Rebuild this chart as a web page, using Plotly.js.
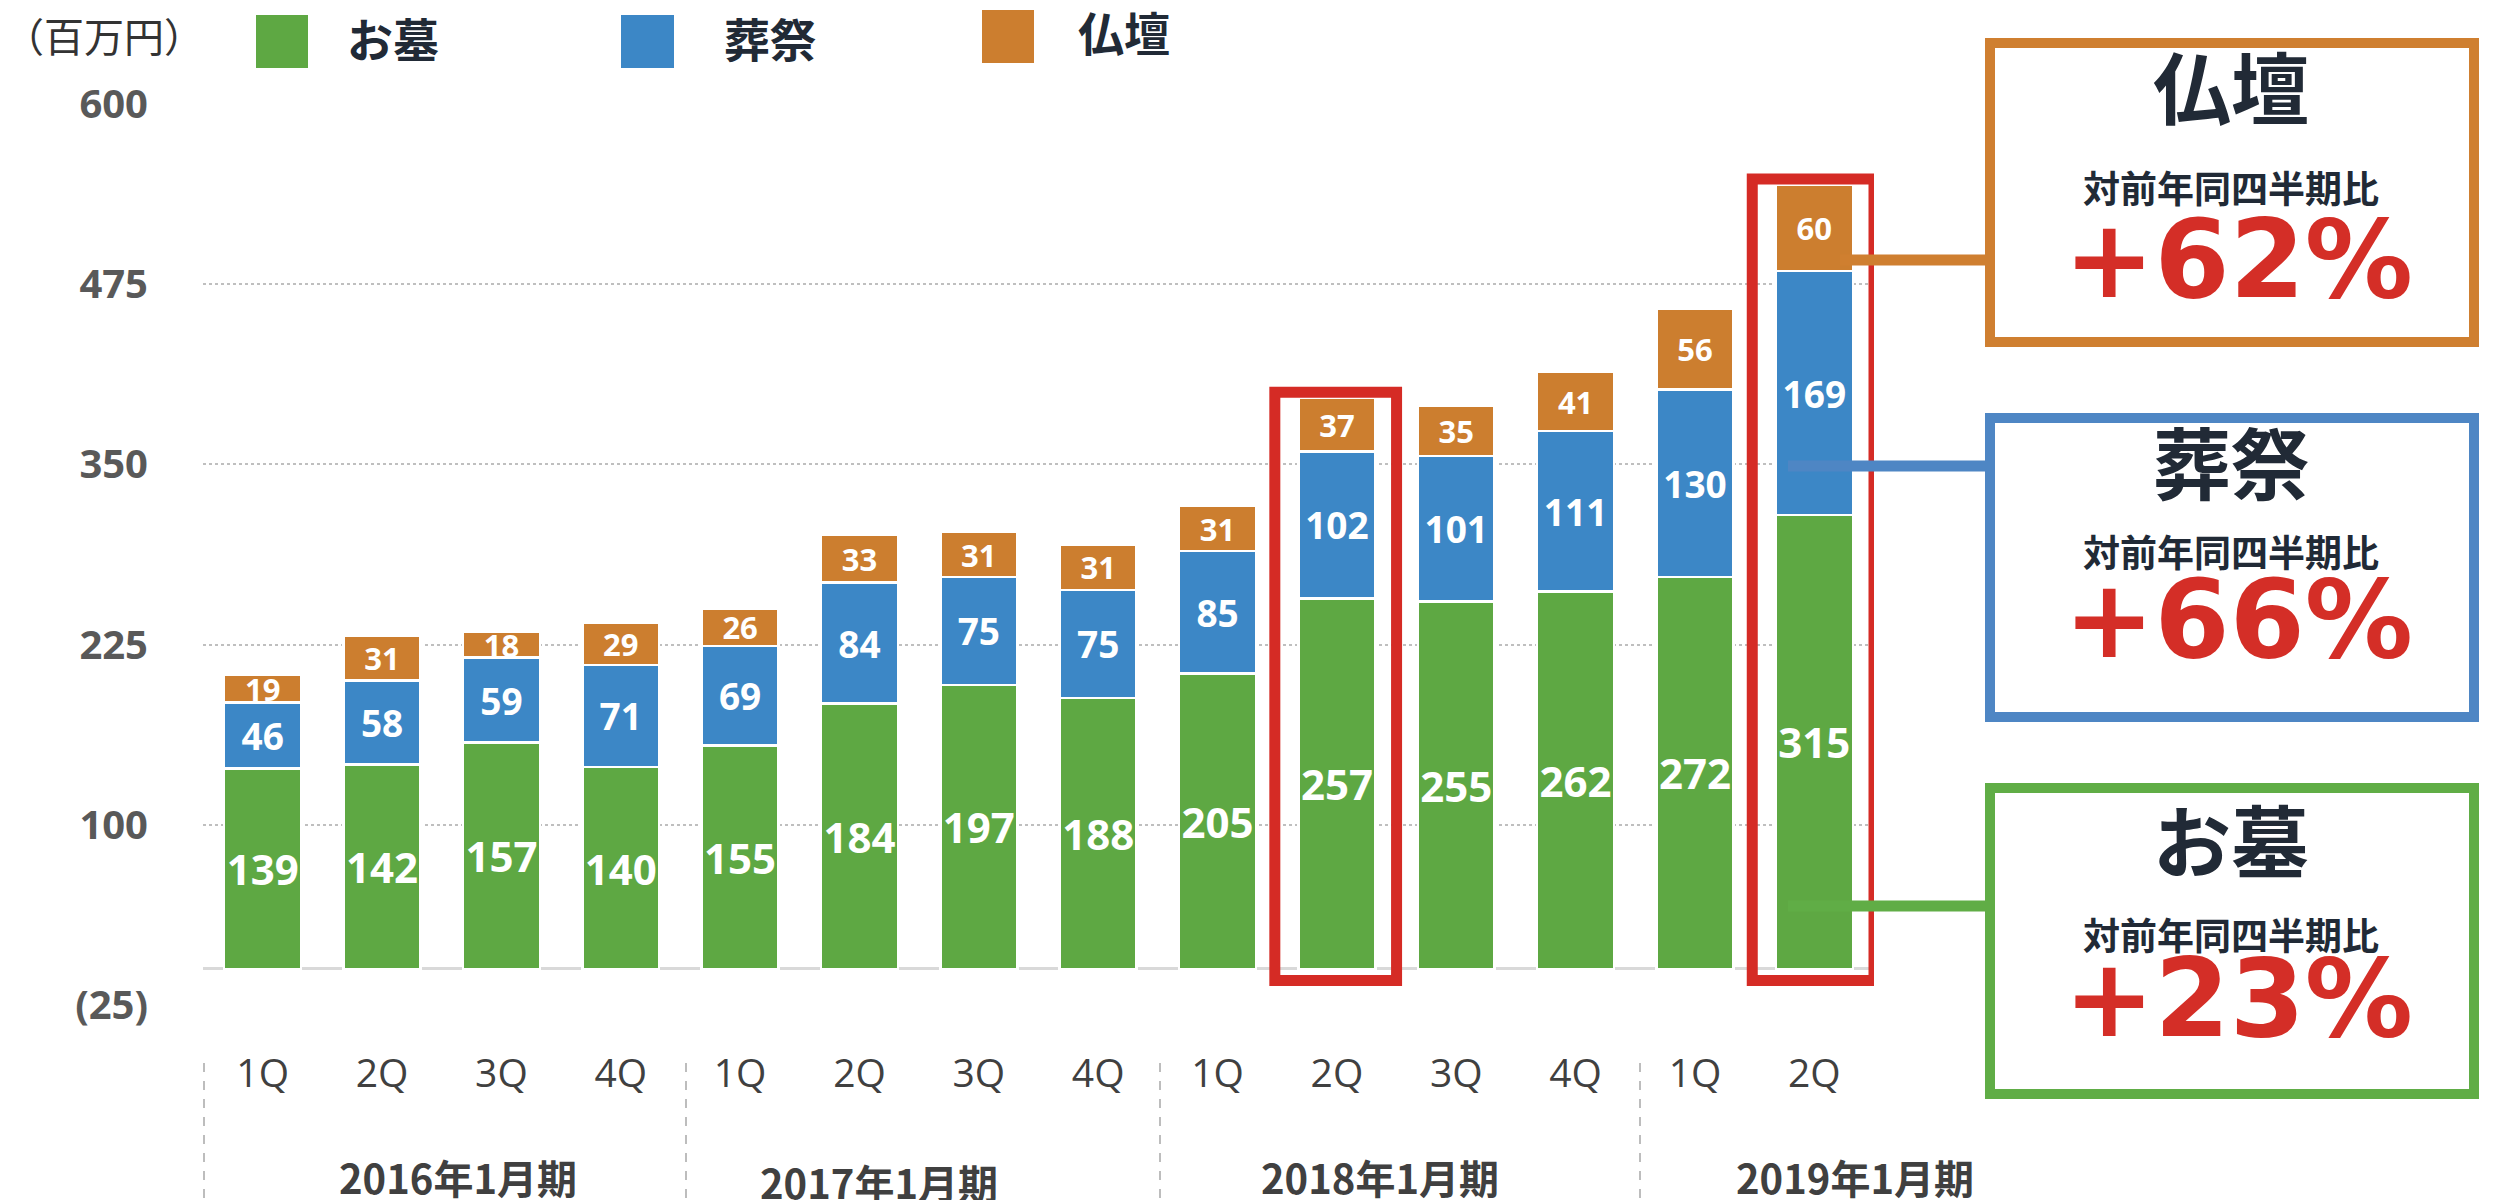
<!DOCTYPE html>
<html><head><meta charset="utf-8">
<script src="https://cdn.plot.ly/plotly-3.0.1.min.js"></script>
<style>html,body{margin:0;padding:0;background:#fff;}#chart{width:2495px;height:1200px;}</style>
</head><body><div id="chart"></div>
<script>
// ---- data ----
const quarters = ['1Q','2Q','3Q','4Q','1Q','2Q','3Q','4Q','1Q','2Q','3Q','4Q','1Q','2Q'];
const fiscalYears = ['2016年1月期','2017年1月期','2018年1月期','2019年1月期'];
const seriesNames = ['お墓','葬祭','仏壇'];
const ohaka = [139,142,157,140,155,184,197,188,205,257,255,262,272,315];
const sosai = [46,58,59,71,69,84,75,75,85,102,101,111,130,169];
const butsudan = [19,31,18,29,26,33,31,31,31,37,35,41,56,60];
const yTickVals = [-25,100,225,350,475,600];
const yTickText = ['(25)','100','225','350','475','600'];
const highlightIdx = [9,13];
const unitLabel = '（百万円）';
const yoyLabel = '対前年同四半期比';
const growthLabels = ['+62%','+66%','+23%']; // 仏壇, 葬祭, お墓
const calloutNames = ['仏壇','葬祭','お墓'];

// ---- style ----
const GREEN='#5ea843', BLUE='#3c87c6', ORANGE='#cc7e2f';
const BOX_ORANGE='#cf7f30', BOX_BLUE='#4e86c4', BOX_GREEN='#60ad46';
const DARK='#212a36', RED='#d42e27';
const CJK='"Noto Sans CJK JP", "Noto Sans", sans-serif';
const NUM='"Open Sans", "Noto Sans", sans-serif';

const L=203, T=104, W=1671, H=901;
const px = x => (x - L) / W;
const py = y => 1 - (y - T) / H;

const idx = quarters.map((_, i) => i);

function barTrace(name, vals, color, size) {
  return {
    type:'bar', name:name, x: idx, y: vals, text: vals.map(String),
    textposition:'inside', insidetextanchor:'middle', textangle:0, constraintext:'none',
    textfont:{family:NUM, size:size, color:'#ffffff', weight:'bold'},
    marker:{color:color, line:{color:'#ffffff', width:2.5}},
    hoverinfo:'skip', showlegend:false
  };
}
const data = [
  barTrace(seriesNames[0], ohaka, GREEN, 42),
  barTrace(seriesNames[1], sosai, BLUE, 37),
  barTrace(seriesNames[2], butsudan, ORANGE, 31)
];

const shapes = [];
const annotations = [];

// legend (drawn)
const legendItems = [
  {sq:[256,15,308,68], color:GREEN, tx:345, ty:37, name:seriesNames[0]},
  {sq:[621,15,674,68], color:BLUE, tx:722, ty:37, name:seriesNames[1]},
  {sq:[982,10,1034,63], color:ORANGE, tx:1076, ty:31, name:seriesNames[2]}
];
legendItems.forEach(it => {
  shapes.push({type:'rect', xref:'paper', yref:'paper', x0:px(it.sq[0]), x1:px(it.sq[2]), y0:py(it.sq[3]), y1:py(it.sq[1]), fillcolor:it.color, line:{width:0}});
  annotations.push({xref:'paper', yref:'paper', x:px(it.tx), y:py(it.ty), xanchor:'left', yanchor:'middle', showarrow:false, text:it.name, font:{family:CJK, size:46, color:DARK, weight:'bold'}});
});
annotations.push({xref:'paper', yref:'paper', x:px(2), y:py(35), xanchor:'left', yanchor:'middle', showarrow:false, text:unitLabel, font:{family:CJK, size:40, color:'#333333'}});

// group separators
[204, 686, 1160, 1640].forEach(x => {
  shapes.push({type:'line', xref:'paper', yref:'paper', x0:px(x), x1:px(x), y0:py(1063), y1:py(1200), line:{color:'#bdbdbd', width:2, dash:'dash'}});
});
// fiscal year labels
const fyPos = [[458,1177],[879,1182],[1380,1177],[1855,1177]];
fiscalYears.forEach((t, i) => {
  annotations.push({xref:'paper', yref:'paper', x:px(fyPos[i][0]), y:py(fyPos[i][1]), xanchor:'center', yanchor:'middle', showarrow:false, text:t, font:{family:CJK, size:40, color:'#404040', weight:'bold'}});
});

// red highlight boxes
highlightIdx.forEach(i => {
  const total = ohaka[i] + sosai[i] + butsudan[i];
  shapes.push({type:'rect', xref:'x', yref:'y', x0:i-0.52, x1:i+0.5, y0:-8, y1:total+4, line:{color:'#d52b25', width:11}, fillcolor:'rgba(0,0,0,0)'});
});

// connectors (drawn over the red boxes)
const connectors = [
  {y:260, x0:1840, color:BOX_ORANGE},
  {y:466, x0:1788, color:BOX_BLUE},
  {y:906, x0:1788, color:BOX_GREEN}
];
connectors.forEach(c => {
  shapes.push({type:'line', xref:'paper', yref:'paper', x0:px(c.x0), x1:px(1988), y0:py(c.y), y1:py(c.y), line:{color:c.color, width:11}});
});

// callout boxes
const callBoxes = [
  {y0:43, y1:342, color:BOX_ORANGE, ty:85, sy:187, gy:259},
  {y0:418, y1:717, color:BOX_BLUE, ty:460, sy:551, gy:619},
  {y0:788, y1:1094, color:BOX_GREEN, ty:838, sy:934, gy:998}
];
callBoxes.forEach((b, i) => {
  shapes.push({type:'rect', xref:'paper', yref:'paper', x0:px(1990), x1:px(2474), y0:py(b.y1), y1:py(b.y0), line:{color:b.color, width:10}, fillcolor:'#ffffff'});
  annotations.push({xref:'paper', yref:'paper', x:px(2231), y:py(b.ty), xanchor:'center', yanchor:'middle', showarrow:false, text:calloutNames[i], font:{family:CJK, size:78, color:DARK, weight:'bold'}});
  annotations.push({xref:'paper', yref:'paper', x:px(2231), y:py(b.sy), xanchor:'center', yanchor:'middle', showarrow:false, text:yoyLabel, font:{family:CJK, size:37, color:DARK, weight:'bold'}});
  annotations.push({xref:'paper', yref:'paper', x:px(2238), y:py(b.gy), xanchor:'center', yanchor:'middle', showarrow:false, text:growthLabels[i], font:{family:'"DejaVu Sans", sans-serif', size:108, color:RED, weight:'bold'}});
});

const layout = {
  width:2495, height:1200,
  margin:{l:L, r:2495-L-W, t:T, b:1200-T-H, pad:0},
  paper_bgcolor:'#ffffff', plot_bgcolor:'#ffffff',
  barmode:'stack', bargap:0.355,
  showlegend:false,
  xaxis:{
    range:[-0.5, 13.5], tickmode:'array', tickvals:idx, ticktext:quarters,
    showgrid:false, zeroline:false, showline:false, ticks:'',
    tickfont:{family:NUM, size:39, color:'#404040'}, ticklabelstandoff:42, fixedrange:true
  },
  yaxis:{
    range:[-25, 600], tickmode:'array', tickvals:yTickVals, ticktext:yTickText,
    showgrid:true, gridcolor:'#bfbfbf', gridwidth:2, griddash:'dot',
    zeroline:true, zerolinecolor:'#d9d9d9', zerolinewidth:3,
    showline:false, ticks:'', tickfont:{family:NUM, size:40, color:'#595959', weight:'bold'},
    ticklabelstandoff:54, fixedrange:true
  },
  shapes:shapes, annotations:annotations
};
Plotly.newPlot('chart', data, layout, {displayModeBar:false, staticPlot:true});
</script></body></html>
